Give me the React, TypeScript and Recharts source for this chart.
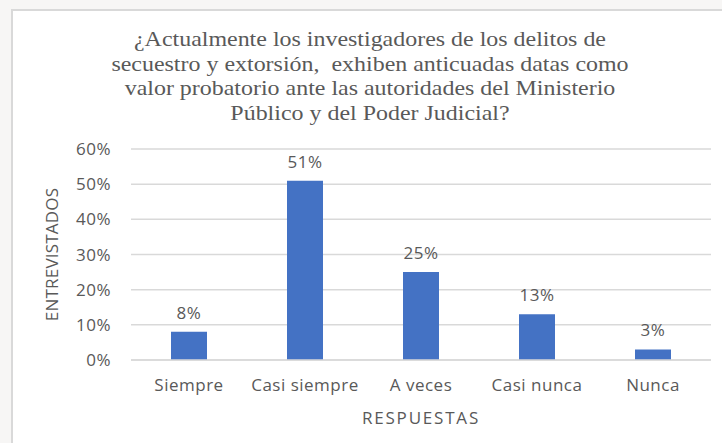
import React from "react";
import {
  BarChart,
  Bar,
  XAxis,
  YAxis,
  CartesianGrid,
  LabelList,
} from "recharts";

const categories = ["Siempre", "Casi siempre", "A veces", "Casi nunca", "Nunca"];
const values = [8, 51, 25, 13, 3];
const yTicks = [0, 10, 20, 30, 40, 50, 60];

const titleLines = [
  "¿Actualmente los investigadores de los delitos de",
  "secuestro y extorsión,  exhiben anticuadas datas como",
  "valor probatorio ante las autoridades del Ministerio",
  "Público y del Poder Judicial?",
];

const data = categories.map((name, i) => ({ name, value: values[i] }));

const TEXT = "#595959";
const FONT = "'Open Sans', sans-serif";

export default function App() {
  return (
    <div
      style={{
        position: "absolute",
        left: 0,
        top: 0,
        width: 722,
        height: 443,
        overflow: "hidden",
        background: "#f7f6f5",
      }}
    >
      <div
        style={{
          position: "absolute",
          left: 11,
          top: 9,
          width: 740,
          height: 460,
          background: "#ffffff",
          border: "2px solid #d9d9d9",
          boxSizing: "border-box",
        }}
      />
      <div
        style={{
          position: "absolute",
          left: 11,
          top: 27,
          width: 718,
          textAlign: "center",
          fontFamily: "'Liberation Serif', serif",
          fontSize: 21,
          lineHeight: "24.5px",
          color: TEXT,
          transform: "scaleX(1.14)",
          transformOrigin: "359px 0",
        }}
      >
        {titleLines.map((l) => (
          <div key={l} style={{ whiteSpace: "pre" }}>
            {l}
          </div>
        ))}
      </div>
      <div style={{ position: "absolute", left: 0, top: 0 }}>
        <BarChart
          width={722}
          height={443}
          data={data}
          margin={{ top: 149, right: 11, left: 61, bottom: 53 }}
          style={{ fontFamily: FONT }}
        >
          <CartesianGrid vertical={false} stroke="#d9d9d9" strokeWidth={1.5} />
          <XAxis
            dataKey="name"
            height={30}
            interval={0}
            tickLine={false}
            tickSize={0}
            tickMargin={19}
            axisLine={{ stroke: "#d9d9d9", strokeWidth: 1.5 }}
            tick={{ fill: TEXT, fontSize: 17, letterSpacing: 0.5 }}
            label={{
              value: "RESPUESTAS",
              position: "bottom",
              offset: 22,
              fill: TEXT,
              fontSize: 17,
              letterSpacing: 1.8,
            }}
          />
          <YAxis
            width={70}
            domain={[0, 60]}
            ticks={yTicks}
            tickFormatter={(v) => `${v}%`}
            tickLine={false}
            tickSize={0}
            tickMargin={20}
            axisLine={false}
            tick={{ fill: TEXT, fontSize: 17, letterSpacing: 0.5 }}
            label={{
              content: ({ viewBox }: any) => {
                const cy = viewBox.y + viewBox.height / 2;
                return (
                  <text
                    x={51}
                    y={cy}
                    transform={`rotate(-90 51 ${cy})`}
                    textAnchor="middle"
                    dominantBaseline="central"
                    fill={TEXT}
                    fontSize={17}
                    letterSpacing={0.2}
                    fontFamily={FONT}
                  >
                    ENTREVISTADOS
                  </text>
                );
              },
            }}
          />
          <Bar dataKey="value" fill="#4472c4" barSize={36} isAnimationActive={false}>
            <LabelList
              dataKey="value"
              position="top"
              offset={13}
              formatter={(v: any) => `${v}%`}
              fill={TEXT}
              fontSize={17}
              letterSpacing={0.5}
            />
          </Bar>
        </BarChart>
      </div>
    </div>
  );
}
